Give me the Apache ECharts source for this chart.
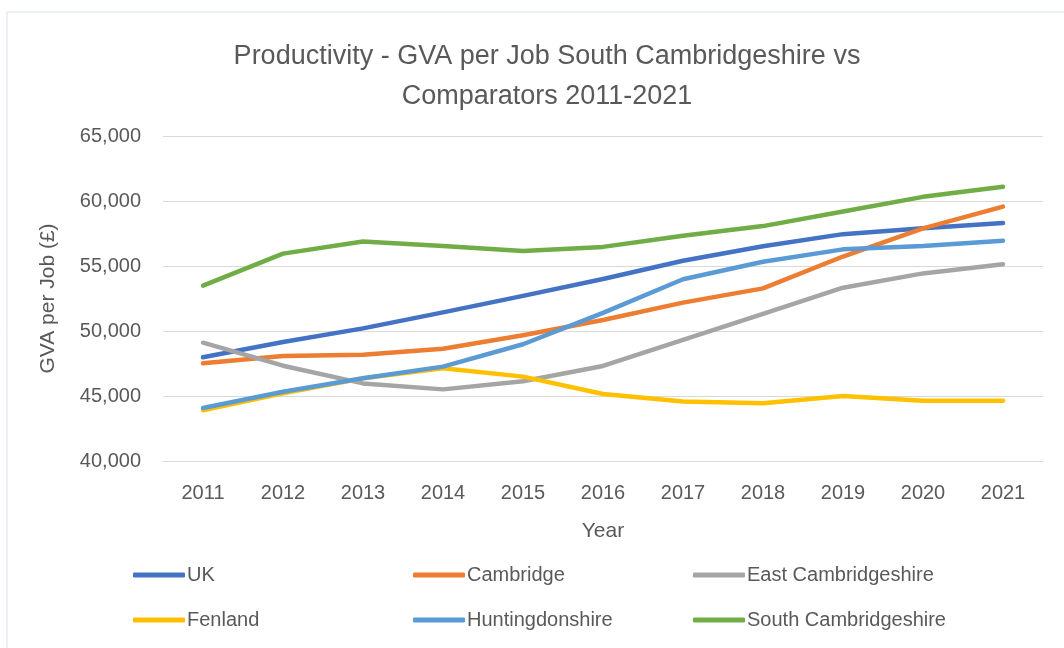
<!DOCTYPE html>
<html>
<head>
<meta charset="utf-8">
<script src="https://cdn.jsdelivr.net/npm/echarts@6/dist/echarts.min.js"></script>
<style>
  html, body { margin: 0; padding: 0; background: #fff; }
  #chart { width: 1064px; height: 648px; }
</style>
</head>
<body>
<div id="chart"></div>
<script>
const years = ["2011", "2012", "2013", "2014", "2015", "2016", "2017", "2018", "2019", "2020", "2021"];
const uk = [47980, 49150, 50200, 51430, 52700, 54000, 55400, 56520, 57450, 57900, 58300];
const cambridge = [47520, 48080, 48180, 48640, 49680, 50850, 52180, 53280, 55730, 57900, 59570];
const eastCambs = [49100, 47330, 45970, 45510, 46130, 47310, 49310, 51310, 53330, 54430, 55130];
const fenland = [43900, 45210, 46360, 47130, 46490, 45150, 44570, 44440, 45000, 44630, 44630];
const hunts = [44080, 45330, 46360, 47260, 48980, 51400, 53980, 55330, 56280, 56540, 56950];
const southCambs = [53490, 55950, 56880, 56540, 56150, 56470, 57320, 58070, 59190, 60320, 61100];

const names = ["UK", "Cambridge", "East Cambridgeshire", "Fenland", "Huntingdonshire", "South Cambridgeshire"];
const colors = ["#4472C4", "#ED7D31", "#A5A5A5", "#FFC000", "#5B9BD5", "#70AD47"];
const values = [uk, cambridge, eastCambs, fenland, hunts, southCambs];

const font = "'Liberation Sans', Arial, sans-serif";
const textColor = "#595959";

const chart = echarts.init(document.getElementById("chart"));

// one legend per entry so the 2 x 3 grid has fixed columns
const legendCols = [128, 408, 688];
const legendRows = [560, 605];
const legends = names.map((n, i) => ({
  top: legendRows[Math.floor(i / 3)],
  left: legendCols[i % 3],
  data: [n],
  icon: "roundRect",
  itemWidth: 52,
  itemHeight: 5,
  textStyle: { color: textColor, fontSize: 20, fontFamily: font, padding: [0, 0, 0, -3] }
}));

const option = {
  animation: false,
  color: colors,
  title: {
    text: "Productivity - GVA per Job South Cambridgeshire vs\nComparators 2011-2021",
    left: 542,
    textAlign: "center",
    top: 32,
    textStyle: { color: textColor, fontSize: 27, fontWeight: "normal", fontFamily: font, lineHeight: 40 }
  },
  graphic: [{
    type: "rect",
    shape: { x: 7, y: 12, width: 1100, height: 700 },
    style: { fill: "none", stroke: "#dbe2ee", lineWidth: 1 },
    silent: true
  }],
  legend: legends,
  grid: { left: 163, right: 21, top: 136, bottom: 187 },
  xAxis: {
    type: "category",
    data: years,
    boundaryGap: true,
    name: "Year",
    nameLocation: "middle",
    nameGap: 60,
    nameTextStyle: { color: textColor, fontSize: 21, fontFamily: font },
    axisLine: { lineStyle: { color: "#d9d9d9", width: 1 } },
    axisTick: { show: false },
    axisLabel: { color: textColor, fontSize: 20, fontFamily: font, margin: 22 }
  },
  yAxis: {
    type: "value",
    min: 40000,
    max: 65000,
    interval: 5000,
    name: "GVA per Job (£)",
    nameLocation: "middle",
    nameGap: 104,
    nameTextStyle: { color: textColor, fontSize: 21, fontFamily: font },
    axisLine: { show: false },
    axisTick: { show: false },
    splitLine: { lineStyle: { color: "#d9d9d9", width: 1 } },
    axisLabel: {
      color: textColor, fontSize: 20, fontFamily: font, margin: 22,
      formatter: v => v.toLocaleString("en-GB")
    }
  },
  series: names.map((n, i) => ({
    name: n,
    type: "line",
    data: values[i],
    showSymbol: false,
    symbol: "none",
    lineStyle: { width: 4.5, color: colors[i], cap: "round", join: "round" },
    itemStyle: { color: colors[i] },
    z: 2 + i
  }))
};

chart.setOption(option);
</script>
</body>
</html>
